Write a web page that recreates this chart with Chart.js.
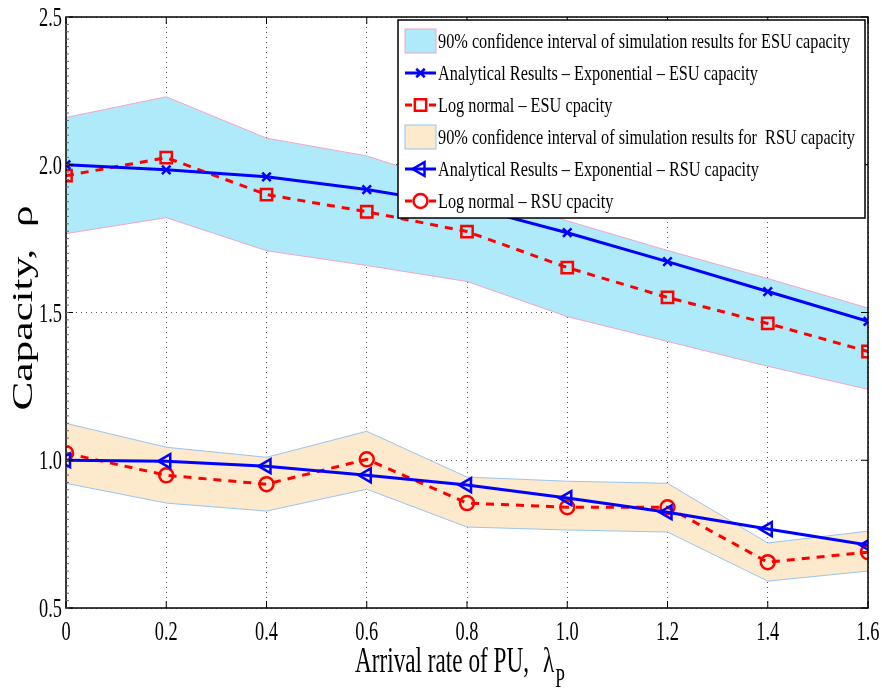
<!DOCTYPE html>
<html>
<head>
<meta charset="utf-8">
<script src="https://cdn.jsdelivr.net/npm/chart.js@4"></script>
<style>
html,body{margin:0;padding:0;background:#fff;}
#wrap{width:882px;height:689px;position:relative;}
</style>
</head>
<body>
<div id="wrap"><canvas id="c" width="882" height="689"></canvas></div>
<script>
// ---- data ----
const xValues = [0, 0.2, 0.4, 0.6, 0.8, 1.0, 1.2, 1.4, 1.6];
const xTickValues = [0, 0.2, 0.4, 0.6, 0.8, 1.0, 1.2, 1.4, 1.6];
const xTickLabels = ['0', '0.2', '0.4', '0.6', '0.8', '1.0', '1.2', '1.4', '1.6'];
const yTickValues = [0.5, 1.0, 1.5, 2.0, 2.5];
const yTickLabels = ['0.5', '1.0', '1.5', '2.0', '2.5'];

const esuUpper      = [2.16, 2.23, 2.09, 2.03, 1.92, 1.81, 1.71, 1.615, 1.515];
const esuLower      = [1.767, 1.821, 1.709, 1.659, 1.605, 1.486, 1.402, 1.318, 1.24];
const esuAnalytical = [2.0, 1.983, 1.959, 1.916, 1.86, 1.77, 1.672, 1.571, 1.47];
const esuLogNormal  = [1.963, 2.024, 1.899, 1.841, 1.774, 1.652, 1.551, 1.463, 1.368];

const rsuUpper      = [1.125, 1.044, 1.01, 1.098, 0.943, 0.929, 0.922, 0.72, 0.76];
const rsuLower      = [0.922, 0.855, 0.828, 0.902, 0.774, 0.764, 0.757, 0.591, 0.625];
const rsuAnalytical = [1.0, 0.997, 0.98, 0.949, 0.916, 0.872, 0.824, 0.767, 0.713];
const rsuLogNormal  = [1.024, 0.949, 0.919, 1.003, 0.855, 0.841, 0.841, 0.655, 0.689];

const legendLabels = [
  '90% confidence interval of simulation results for ESU capacity',
  'Analytical Results \u2013 Exponential \u2013 ESU capacity',
  'Log normal \u2013 ESU cpacity',
  '90% confidence interval of simulation results for  RSU capacity',
  'Analytical Results \u2013 Exponential \u2013 RSU capacity',
  'Log normal \u2013 RSU cpacity'
];
const xTitleMain = 'Arrival rate of PU,';
const xTitleSym = '\u03bb';
const xTitleSub = 'P';
const yTitle = 'Capacity,  \u03c1';

// ---- styles ----
const BLUE = '#0000ff', RED = '#ff0000';
const ESU_FILL = 'rgb(174,234,250)', ESU_EDGE = '#f2a4c6';
const RSU_FILL = 'rgb(253,233,204)', RSU_EDGE = '#98c4f0';
const SERIF = '"Liberation Serif", "Times New Roman", serif';
const TICK_FONT = '27px ' + SERIF;
const TICK_SX = 0.68;

const pts = arr => arr.map((v, i) => ({x: xValues[i], y: v}));

const bandStyle = (edge) => ({
  borderColor: edge, borderWidth: 1, pointRadius: 0, tension: 0, order: 10
});

const datasets = [
  Object.assign({label: 'esuUpper', data: pts(esuUpper), fill: false}, bandStyle(ESU_EDGE)),
  Object.assign({label: 'esuLower', data: pts(esuLower), fill: '-1', backgroundColor: ESU_FILL}, bandStyle(ESU_EDGE)),
  Object.assign({label: 'rsuUpper', data: pts(rsuUpper), fill: false}, bandStyle(RSU_EDGE)),
  Object.assign({label: 'rsuLower', data: pts(rsuLower), fill: '-1', backgroundColor: RSU_FILL}, bandStyle(RSU_EDGE)),
  {label: legendLabels[1], data: pts(esuAnalytical), borderColor: BLUE, borderWidth: 3,
   pointStyle: 'crossRot', pointRadius: 6, pointBorderColor: BLUE, pointBorderWidth: 2.5, fill: false, order: 1},
  {label: legendLabels[2], data: pts(esuLogNormal), borderColor: RED, borderWidth: 3, borderDash: [8, 7],
   pointStyle: 'rect', pointRadius: 8, pointBorderColor: RED, pointBackgroundColor: 'rgba(0,0,0,0)', pointBorderWidth: 2.5, fill: false, order: 2},
  {label: legendLabels[4], data: pts(rsuAnalytical), borderColor: BLUE, borderWidth: 3,
   pointStyle: 'triangle', pointRotation: -90, pointRadius: 8, pointBorderColor: BLUE, pointBackgroundColor: 'rgba(0,0,0,0)', pointBorderWidth: 2.5, fill: false, order: 3},
  {label: legendLabels[5], data: pts(rsuLogNormal), borderColor: RED, borderWidth: 3, borderDash: [8, 7],
   pointStyle: 'circle', pointRadius: 7, pointBorderColor: RED, pointBackgroundColor: 'rgba(0,0,0,0)', pointBorderWidth: 2.5, fill: false, order: 4}
];

function drawScaledText(ctx, text, x, y, sx, align) {
  ctx.save();
  ctx.translate(x, y);
  ctx.scale(sx, 1);
  ctx.textAlign = align || 'left';
  ctx.fillText(text, 0, 0);
  ctx.restore();
}

const decor = {
  id: 'decor',
  afterDraw(chart) {
    const ctx = chart.ctx;
    const {left, top, right, bottom} = chart.chartArea;
    const xs = chart.scales.x, ys = chart.scales.y;
    ctx.save();
    // frame
    ctx.setLineDash([]);
    ctx.strokeStyle = '#000';
    ctx.lineWidth = 1.5;
    ctx.strokeRect(left, top, right - left, bottom - top);
    // inward ticks
    ctx.lineWidth = 1;
    ctx.beginPath();
    yTickValues.forEach(v => {
      const p = ys.getPixelForValue(v);
      ctx.moveTo(left, p); ctx.lineTo(left + 7, p);
      ctx.moveTo(right, p); ctx.lineTo(right - 7, p);
    });
    xTickValues.forEach(v => {
      const p = xs.getPixelForValue(v);
      ctx.moveTo(p, bottom); ctx.lineTo(p, bottom - 7);
      ctx.moveTo(p, top); ctx.lineTo(p, top + 7);
    });
    ctx.stroke();
    // minor ticks on left axis
    ctx.strokeStyle = '#666';
    ctx.beginPath();
    for (let v = 0.5; v <= 2.5001; v += 0.025) {
      const p = ys.getPixelForValue(v);
      ctx.moveTo(left, p); ctx.lineTo(left + 3, p);
    }
    ctx.stroke();

    // tick labels (condensed serif, positioned by the scales)
    ctx.fillStyle = '#000';
    ctx.font = TICK_FONT;
    ctx.textBaseline = 'alphabetic';
    xTickValues.forEach((v, i) => {
      drawScaledText(ctx, xTickLabels[i], xs.getPixelForValue(v), bottom + 32, TICK_SX, 'center');
    });
    yTickValues.forEach((v, i) => {
      drawScaledText(ctx, yTickLabels[i], left - 4, ys.getPixelForValue(v) + 9, TICK_SX, 'right');
    });

    // legend
    const lx = 398, ly = 20, lw = 467, lh = 198;
    ctx.fillStyle = '#fff';
    ctx.fillRect(lx, ly, lw, lh);
    ctx.strokeStyle = '#000';
    ctx.lineWidth = 1.5;
    ctx.strokeRect(lx, ly, lw, lh);
    const rows = [41, 73, 105, 137, 169, 201];
    const sx0 = 405, sx1 = 436, smid = (sx0 + sx1) / 2;
    ctx.font = '22px ' + SERIF;
    ctx.textBaseline = 'middle';
    const longest = ctx.measureText(legendLabels[3]).width;
    const textScale = (855 - 438) / longest;
    legendLabels.forEach((lab, i) => {
      const yy = rows[i];
      ctx.setLineDash([]);
      if (i === 0 || i === 3) {
        ctx.fillStyle = i === 0 ? ESU_FILL : RSU_FILL;
        ctx.strokeStyle = i === 0 ? ESU_EDGE : RSU_EDGE;
        ctx.lineWidth = 1;
        ctx.fillRect(sx0, yy - 12, sx1 - sx0, 24);
        ctx.strokeRect(sx0, yy - 12, sx1 - sx0, 24);
      } else {
        const ds = [null, datasets[4], datasets[5], null, datasets[6], datasets[7]][i];
        ctx.strokeStyle = ds.borderColor;
        ctx.lineWidth = 3;
        ctx.beginPath();
        if (ds.borderDash) {
          ctx.moveTo(sx0, yy); ctx.lineTo(sx0 + 7, yy);
          ctx.moveTo(sx1 - 7, yy); ctx.lineTo(sx1, yy);
        } else {
          ctx.moveTo(sx0, yy); ctx.lineTo(sx1, yy);
        }
        ctx.stroke();
        ctx.strokeStyle = ds.pointBorderColor;
        ctx.fillStyle = 'rgba(0,0,0,0)';
        ctx.lineWidth = ds.pointBorderWidth;
        Chart.helpers.drawPoint(ctx, {
          pointStyle: ds.pointStyle, radius: ds.pointRadius,
          rotation: ds.pointRotation || 0, borderWidth: ds.pointBorderWidth
        }, smid, yy);
      }
      ctx.fillStyle = '#000';
      drawScaledText(ctx, lab, 438, yy + 1, textScale, 'left');
    });

    // x title with subscript
    ctx.fillStyle = '#000';
    ctx.textBaseline = 'alphabetic';
    ctx.font = '36px ' + SERIF;
    const xsx = 174 / ctx.measureText(xTitleMain).width;
    drawScaledText(ctx, xTitleMain, 355, 672, xsx, 'left');
    drawScaledText(ctx, xTitleSym, 543, 672, xsx, 'left');
    const symW = ctx.measureText(xTitleSym).width * xsx;
    ctx.font = '27px ' + SERIF;
    drawScaledText(ctx, xTitleSub, 543 + symW + 1, 687, xsx, 'left');

    // y title
    ctx.save();
    ctx.translate(32, 308);
    ctx.rotate(-Math.PI / 2);
    ctx.font = '30px ' + SERIF;
    const ysx = 205 / ctx.measureText(yTitle).width;
    ctx.scale(ysx, 1);
    ctx.textAlign = 'center';
    ctx.textBaseline = 'alphabetic';
    ctx.fillText(yTitle, 0, 0);
    ctx.restore();

    ctx.restore();
  }
};

new Chart(document.getElementById('c'), {
  type: 'line',
  data: {datasets},
  options: {
    responsive: false,
    animation: false,
    events: [],
    layout: {padding: {left: 0, right: 14, top: 17, bottom: 0}},
    plugins: {legend: {display: false}, tooltip: {enabled: false}, title: {display: false}},
    scales: {
      x: {
        type: 'linear', min: 0, max: 1.6,
        afterBuildTicks: s => { s.ticks = xTickValues.map(v => ({value: v})); },
        afterFit: s => { s.height = 81; s.paddingLeft = 0; s.paddingRight = 0; },
        grid: {color: '#555', lineWidth: 1, drawTicks: false},
        border: {display: false, dash: [1, 4]},
        ticks: {display: false}
      },
      y: {
        type: 'linear', min: 0.5, max: 2.5,
        afterBuildTicks: s => { s.ticks = yTickValues.map(v => ({value: v})); },
        afterFit: s => { s.width = 66; s.paddingTop = 0; s.paddingBottom = 0; },
        grid: {color: '#555', lineWidth: 1, drawTicks: false},
        border: {display: false, dash: [1, 4]},
        ticks: {display: false}
      }
    }
  },
  plugins: [decor]
});
</script>
</body>
</html>
